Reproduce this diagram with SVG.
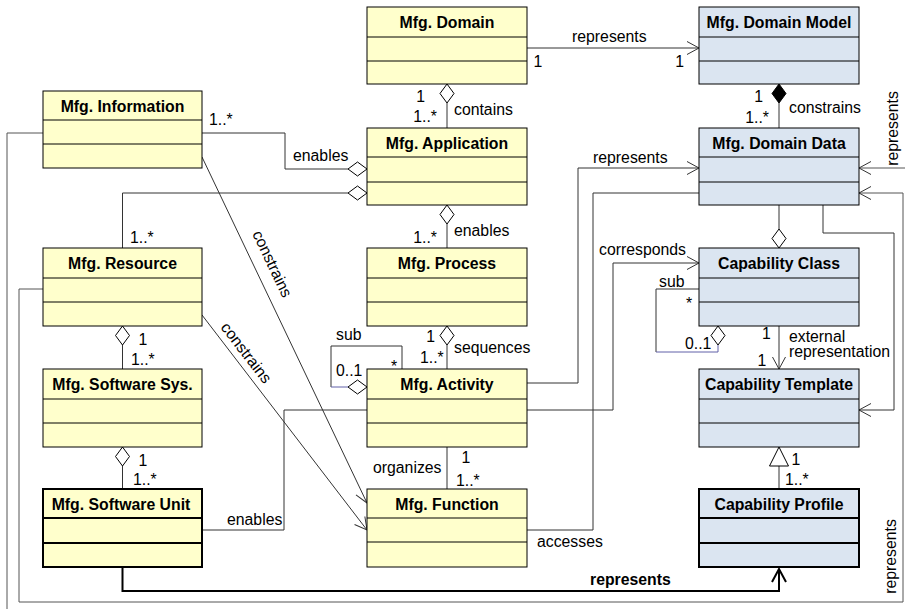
<svg xmlns="http://www.w3.org/2000/svg" width="905" height="609" viewBox="0 0 905 609">
<style>
  .y { fill: #FFFFCC; stroke: #000; stroke-width: 1; }
  .b { fill: #DBE5F1; stroke: #000; stroke-width: 1; }
  .thick { stroke-width: 2; }
  .dv { stroke: #000; stroke-width: 1; }
  .dvt { stroke: #000; stroke-width: 2; }
  .hd { font-family: "Liberation Sans", Arial, sans-serif; font-size: 15.8px; font-weight: bold; text-anchor: middle; fill: #000; }
  .lb { font-family: "Liberation Sans", Arial, sans-serif; font-size: 15.8px; fill: #000; }
  .lbb { font-family: "Liberation Sans", Arial, sans-serif; font-size: 15.8px; font-weight: bold; fill: #000; }
  .e { text-anchor: end; }
  .m { text-anchor: middle; }
  .c { fill: none; stroke: #333; stroke-width: 1; }
  .cg { fill: none; stroke: #555; stroke-width: 1; }
  .cb { fill: none; stroke: #6060A8; stroke-width: 1; }
  .cbold { fill: none; stroke: #000; stroke-width: 2; }
  .agg { fill: #fff; stroke: #000; stroke-width: 1; }
  .comp { fill: #000; stroke: #000; stroke-width: 1; }
</style>
<defs>
  <marker id="open" viewBox="-14 -8 16 16" refX="0" refY="0" markerWidth="16" markerHeight="16" orient="auto" markerUnits="userSpaceOnUse">
    <path d="M-12,-6.5 L0,0 L-12,6.5" fill="none" stroke="#333" stroke-width="1"/>
  </marker>
  <marker id="openb" viewBox="-16 -9 18 18" refX="0" refY="0" markerWidth="18" markerHeight="18" orient="auto" markerUnits="userSpaceOnUse">
    <path d="M-13,-7 L0,0 L-13,7" fill="none" stroke="#000" stroke-width="2"/>
  </marker>
</defs>
<rect width="905" height="609" fill="#fff"/>

<!-- connectors -->
<g id="connectors">
  <path class="c" d="M527,48 H699" marker-end="url(#open)"/>
  <path class="c" d="M447,103 V128"/>
  <path class="c" d="M779,103 V128"/>
  <path class="c" d="M202,133 H285 V169 H348"/>
  <path class="c" d="M122.5,248 V193 H348"/>
  <path class="c" d="M447,224 V248"/>
  <path class="c" d="M447,345 V369"/>
  <path class="c" d="M402,369 V346 H331 V387"/>
  <path class="cb" d="M331,387 H348"/>
  <path class="c" d="M527,383 H578 V168 H699" marker-end="url(#open)"/>
  <path class="c" d="M527,530 H593 V193 H699"/>
  <path class="c" d="M527,410 H613 V263 H699" marker-end="url(#open)"/>
  <path class="c" d="M202,530 H284 V410 H367"/>
  <path class="c" d="M779,205 V229"/>
  <path class="c" d="M823,205 V233 H894 V410 H859" marker-end="url(#open)"/>
  <path class="c" d="M699,289 H656 V352"/>
  <path class="cb" d="M656,352 H718 V345"/>
  <path class="c" d="M779,326 V369" marker-end="url(#open)"/>
  <path class="c" d="M779,466 V489"/>
  <path class="c" d="M122.5,345 V369"/>
  <path class="c" d="M122.5,466 V489"/>
  <path class="c" d="M447,447 V489"/>
  <path class="c" d="M202,157 L367,503" marker-end="url(#open)"/>
  <path class="c" d="M202,315 L367,530" marker-end="url(#open)"/>
  <path class="cbold" d="M122.5,567 V591 H779 V569" marker-end="url(#openb)"/>
  <path class="cg" d="M43,133 H7 V615 H915 V168 H859" marker-end="url(#open)"/>
  <path class="cg" d="M43,289 H19 V602 H903 V193 H859" marker-end="url(#open)"/>

  <!-- aggregation / composition / generalization ends -->
  <polygon class="agg" points="447,84 454,93.5 447,103 440,93.5"/>
  <polygon class="agg" points="447,205 454,214.5 447,224 440,214.5"/>
  <polygon class="agg" points="447,326 454,335.5 447,345 440,335.5"/>
  <polygon class="agg" points="367,169 357.5,162 348,169 357.5,176"/>
  <polygon class="agg" points="367,193 357.5,186 348,193 357.5,200"/>
  <polygon class="agg" points="367,387 357.5,380 348,387 357.5,394"/>
  <polygon class="agg" points="779,229 786,238.5 779,248 772,238.5"/>
  <polygon class="agg" points="718,326 725,335.5 718,345 711,335.5"/>
  <polygon class="agg" points="122.5,326 129.5,335.5 122.5,345 115.5,335.5"/>
  <polygon class="agg" points="122.5,447 129.5,456.5 122.5,466 115.5,456.5"/>
  <polygon class="comp" points="779,84 786,93.5 779,103 772,93.5"/>
  <polygon class="agg" points="779,447 788.5,466 769.5,466"/>

  <!-- labels -->
  <text class="lb" x="572" y="42">represents</text>
  <text class="lb" x="533.5" y="67">1</text>
  <text class="lb e" x="684" y="67">1</text>
  <text class="lb e" x="425" y="102">1</text>
  <text class="lb e" x="437" y="122">1..*</text>
  <text class="lb" x="454" y="115">contains</text>
  <text class="lb e" x="763" y="102">1</text>
  <text class="lb e" x="769" y="123">1..*</text>
  <text class="lb" x="789" y="113">constrains</text>
  <text class="lb" x="209" y="125">1..*</text>
  <text class="lb" x="293" y="161">enables</text>
  <text class="lb" x="593" y="163">represents</text>
  <text class="lb" x="130" y="243">1..*</text>
  <text class="lb e" x="437" y="243">1..*</text>
  <text class="lb" x="454" y="236">enables</text>
  <text class="lb" x="599" y="255">corresponds</text>
  <text class="lb" x="659" y="287">sub</text>
  <text class="lb" x="686" y="309">*</text>
  <text class="lb e" x="435" y="342">1</text>
  <text class="lb" x="420" y="363">1..*</text>
  <text class="lb" x="454" y="353">sequences</text>
  <text class="lb" x="336" y="340">sub</text>
  <text class="lb" x="391" y="372">*</text>
  <text class="lb" x="336" y="376">0..1</text>
  <text class="lb" x="685" y="349">0..1</text>
  <text class="lb" x="762" y="339">1</text>
  <text class="lb" x="757.5" y="366">1</text>
  <text class="lb"><tspan x="789" y="341.5">external</tspan><tspan x="789" y="357">representation</tspan></text>
  <text class="lb" x="138.5" y="345">1</text>
  <text class="lb" x="131" y="365">1..*</text>
  <text class="lb" x="373" y="473">organizes</text>
  <text class="lb" x="461.5" y="463">1</text>
  <text class="lb" x="456" y="486">1..*</text>
  <text class="lb" x="138.5" y="466">1</text>
  <text class="lb" x="133" y="485">1..*</text>
  <text class="lb" x="227" y="525">enables</text>
  <text class="lb" x="537" y="547">accesses</text>
  <text class="lb" x="791.5" y="465">1</text>
  <text class="lb" x="785" y="485">1..*</text>
  <text class="lbb" x="590" y="585">represents</text>
  <text class="lb m" transform="translate(898,128.5) rotate(-90)">represents</text>
  <text class="lb m" transform="translate(896,556.5) rotate(-90)">represents</text>
  <text class="lb m" transform="translate(272,264) rotate(64.5)" y="5">constrains</text>
  <text class="lb m" transform="translate(246,353) rotate(52.5)" y="5">constrains</text>
</g>

<!-- nodes -->
<g id="mfg-domain">
  <rect class="y" x="367" y="7" width="160" height="77"/>
  <line class="dv" x1="367" y1="37" x2="527" y2="37"/><line class="dv" x1="367" y1="61" x2="527" y2="61"/>
  <text class="hd" x="447" y="28">Mfg. Domain</text>
</g>
<g id="mfg-domain-model">
  <rect class="b" x="699" y="7" width="160" height="77"/>
  <line class="dv" x1="699" y1="37" x2="859" y2="37"/><line class="dv" x1="699" y1="61" x2="859" y2="61"/>
  <text class="hd" x="779" y="28">Mfg. Domain Model</text>
</g>
<g id="mfg-information">
  <rect class="y" x="43" y="91" width="159" height="77"/>
  <line class="dv" x1="43" y1="120" x2="202" y2="120"/><line class="dv" x1="43" y1="144" x2="202" y2="144"/>
  <text class="hd" x="122.5" y="112">Mfg. Information</text>
</g>
<g id="mfg-application">
  <rect class="y" x="367" y="128" width="160" height="77"/>
  <line class="dv" x1="367" y1="157" x2="527" y2="157"/><line class="dv" x1="367" y1="182" x2="527" y2="182"/>
  <text class="hd" x="447" y="148.5">Mfg. Application</text>
</g>
<g id="mfg-domain-data">
  <rect class="b" x="699" y="128" width="160" height="77"/>
  <line class="dv" x1="699" y1="157" x2="859" y2="157"/><line class="dv" x1="699" y1="182" x2="859" y2="182"/>
  <text class="hd" x="779" y="148.5">Mfg. Domain Data</text>
</g>
<g id="mfg-resource">
  <rect class="y" x="43" y="248" width="159" height="78"/>
  <line class="dv" x1="43" y1="278" x2="202" y2="278"/><line class="dv" x1="43" y1="302" x2="202" y2="302"/>
  <text class="hd" x="122.5" y="268.5">Mfg. Resource</text>
</g>
<g id="mfg-process">
  <rect class="y" x="367" y="248" width="160" height="78"/>
  <line class="dv" x1="367" y1="278" x2="527" y2="278"/><line class="dv" x1="367" y1="302" x2="527" y2="302"/>
  <text class="hd" x="447" y="268.5">Mfg. Process</text>
</g>
<g id="capability-class">
  <rect class="b" x="699" y="248" width="160" height="78"/>
  <line class="dv" x1="699" y1="278" x2="859" y2="278"/><line class="dv" x1="699" y1="302" x2="859" y2="302"/>
  <text class="hd" x="779" y="268.5">Capability Class</text>
</g>
<g id="mfg-software-sys">
  <rect class="y" x="43" y="369" width="159" height="78"/>
  <line class="dv" x1="43" y1="399" x2="202" y2="399"/><line class="dv" x1="43" y1="423" x2="202" y2="423"/>
  <text class="hd" x="122.5" y="389.5">Mfg. Software Sys.</text>
</g>
<g id="mfg-activity">
  <rect class="y" x="367" y="369" width="160" height="78"/>
  <line class="dv" x1="367" y1="399" x2="527" y2="399"/><line class="dv" x1="367" y1="423" x2="527" y2="423"/>
  <text class="hd" x="447" y="389.5">Mfg. Activity</text>
</g>
<g id="capability-template">
  <rect class="b" x="699" y="369" width="160" height="78"/>
  <line class="dv" x1="699" y1="399" x2="859" y2="399"/><line class="dv" x1="699" y1="423" x2="859" y2="423"/>
  <text class="hd" x="779" y="389.5">Capability Template</text>
</g>
<g id="mfg-software-unit">
  <rect class="y thick" x="43" y="489" width="159" height="78"/>
  <line class="dvt" x1="43" y1="518" x2="202" y2="518"/><line class="dvt" x1="43" y1="543" x2="202" y2="543"/>
  <text class="hd" x="121" y="509.5">Mfg. Software Unit</text>
</g>
<g id="mfg-function">
  <rect class="y" x="367" y="489" width="160" height="78"/>
  <line class="dv" x1="367" y1="518" x2="527" y2="518"/><line class="dv" x1="367" y1="542" x2="527" y2="542"/>
  <text class="hd" x="447" y="509.5">Mfg. Function</text>
</g>
<g id="capability-profile">
  <rect class="b thick" x="699" y="489" width="160" height="78"/>
  <line class="dvt" x1="699" y1="518" x2="859" y2="518"/><line class="dvt" x1="699" y1="543" x2="859" y2="543"/>
  <text class="hd" x="779" y="509.5">Capability Profile</text>
</g>
</svg>
